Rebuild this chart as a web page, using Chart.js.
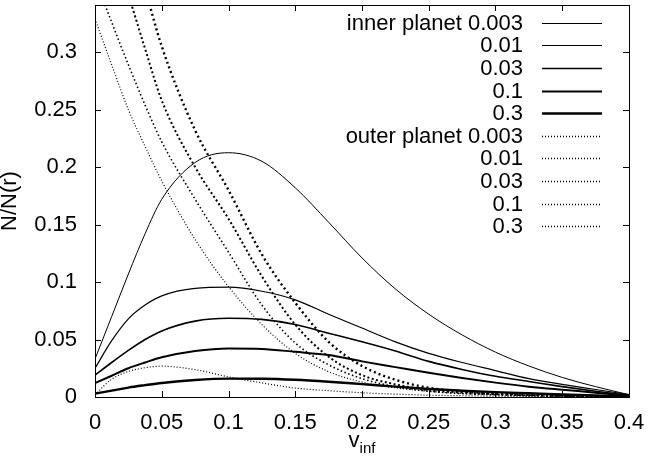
<!doctype html>
<html lang="en">
<meta charset="utf-8">

<head>
    <script src="https://cdn.jsdelivr.net/npm/chart.js"></script>
    <style>
        body { margin: 0; background: #fff; }
    </style>
</head>

<body>
    <canvas id="velChart" width="648" height="460"></canvas>

    <script>
        // velocity grid (v_inf) shared by every curve
        const vInf = [0, 0.0125, 0.025, 0.0375, 0.05, 0.075, 0.1, 0.125, 0.15, 0.175, 0.2, 0.225, 0.25, 0.275, 0.3, 0.325, 0.35, 0.375, 0.4];

        // inner planet, mass ratio 0.003 ... 0.3
        const inner0003 = [0.033, 0.070, 0.107, 0.142, 0.172, 0.204, 0.2125, 0.205, 0.182, 0.152, 0.121, 0.094, 0.072, 0.054, 0.039, 0.027, 0.017, 0.009, 0.002];
        const inner001 = [0.025, 0.049, 0.068, 0.080, 0.088, 0.0945, 0.0955, 0.092, 0.0845, 0.072, 0.060, 0.048, 0.038, 0.030, 0.023, 0.016, 0.011, 0.0065, 0.002];
        const inner003 = [0.019, 0.030, 0.0405, 0.050, 0.0575, 0.066, 0.0685, 0.0675, 0.063, 0.0555, 0.048, 0.040, 0.031, 0.024, 0.018, 0.0135, 0.009, 0.005, 0.0015];
        const inner01 = [0.012, 0.0185, 0.025, 0.030, 0.0345, 0.040, 0.0422, 0.0418, 0.0393, 0.0365, 0.031, 0.026, 0.021, 0.0165, 0.0125, 0.009, 0.0063, 0.0038, 0.001];
        const inner03 = [0.003, 0.0055, 0.0082, 0.0103, 0.0122, 0.0148, 0.0160, 0.0159, 0.0150, 0.0133, 0.0112, 0.0090, 0.0070, 0.0055, 0.0042, 0.0032, 0.0022, 0.0013, 0.0005];

        // outer planet, same mass ratios
        const outer0003 = [0.002, 0.0155, 0.0222, 0.0255, 0.0268, 0.0238, 0.0175, 0.0123, 0.0078, 0.0055, 0.0037, 0.0025, 0.0016, 0.0011, 0.0007, 0.0005, 0.0003, 0.0002, 0.0001];
        const outer001 = [0.329, 0.289, 0.250, 0.218, 0.188, 0.137, 0.096, 0.063, 0.038, 0.022, 0.013, 0.008, 0.005, 0.003, 0.002, 0.0012, 0.0008, 0.0004, 0.0002];
        const outer003 = [0.364, 0.326, 0.289, 0.254, 0.222, 0.172, 0.126, 0.080, 0.047, 0.028, 0.016, 0.009, 0.005, 0.003, 0.002, 0.0013, 0.0008, 0.0004, 0.0002];
        const outer01 = [0.44, 0.395, 0.350, 0.303, 0.258, 0.200, 0.155, 0.105, 0.063, 0.035, 0.019, 0.011, 0.006, 0.004, 0.0025, 0.0015, 0.001, 0.0005, 0.0002];
        const outer03 = [0.50, 0.452, 0.404, 0.355, 0.305, 0.232, 0.180, 0.124, 0.082, 0.048, 0.027, 0.015, 0.008, 0.005, 0.003, 0.002, 0.001, 0.0005, 0.0002];

        const keyLabels = ['inner planet 0.003', '0.01', '0.03', '0.1', '0.3',
            'outer planet 0.003', '0.01', '0.03', '0.1', '0.3'];

        const FONT = 'Liberation Sans, Arial, sans-serif';
        const FS = 22;

        function series(vals, width, dash) {
            return {
                data: vInf.map((v, i) => ({ x: v, y: vals[i] })),
                borderColor: '#000',
                borderWidth: width,
                borderDash: dash,
                borderCapStyle: 'butt',
                pointRadius: 0,
                cubicInterpolationMode: 'monotone',
                fill: false
            };
        }

        const datasets = [
            series(inner0003, 1, []),
            series(inner001, 1.2, []),
            series(inner003, 1.6, []),
            series(inner01, 2, []),
            series(inner03, 2.4, []),
            series(outer0003, 1.2, [1, 2]),
            series(outer001, 1.2, [1, 2]),
            series(outer003, 1.6, [1.5, 2.5]),
            series(outer01, 2, [2, 2.5]),
            series(outer03, 2.4, [2, 3])
        ];
        datasets.forEach((d, i) => d.label = keyLabels[i]);

        // gnuplot style frame: border on four sides, ticks pointing inwards, key top right
        const framePlugin = {
            id: 'frame',
            afterDatasetsDraw(chart) {
                const ctx = chart.ctx;
                const a = chart.chartArea;
                const xs = chart.scales.x, ys = chart.scales.y;
                const tl = 6;
                ctx.save();
                ctx.strokeStyle = '#000';
                ctx.lineWidth = 1;
                ctx.setLineDash([]);
                ctx.strokeRect(Math.round(a.left) + 0.5, Math.round(a.top) + 0.5,
                    Math.round(a.right - a.left), Math.round(a.bottom - a.top));
                ctx.beginPath();
                xs.ticks.forEach(t => {
                    const px = Math.round(xs.getPixelForValue(t.value)) + 0.5;
                    ctx.moveTo(px, a.bottom); ctx.lineTo(px, a.bottom - tl);
                    ctx.moveTo(px, a.top); ctx.lineTo(px, a.top + tl);
                });
                ys.ticks.forEach(t => {
                    const py = Math.round(ys.getPixelForValue(t.value)) + 0.5;
                    ctx.moveTo(a.left, py); ctx.lineTo(a.left + tl, py);
                    ctx.moveTo(a.right, py); ctx.lineTo(a.right - tl, py);
                });
                ctx.stroke();

                // key: solid samples keep their width, dotted samples are all drawn fine
                ctx.font = FS + 'px ' + FONT;
                ctx.fillStyle = '#000';
                ctx.textAlign = 'right';
                ctx.textBaseline = 'middle';
                const textRight = a.right - 106;
                const lineL = a.right - 87, lineR = a.right - 27;
                chart.data.datasets.forEach((ds, i) => {
                    const y = a.top + 17.7 + i * 22.6;
                    ctx.fillText(ds.label, textRight, y + 1);
                    const dotted = ds.borderDash.length > 0;
                    ctx.beginPath();
                    ctx.lineWidth = dotted ? 1.3 : ds.borderWidth;
                    ctx.setLineDash(dotted ? [1, 2] : []);
                    ctx.moveTo(lineL, Math.round(y) + 0.5);
                    ctx.lineTo(lineR, Math.round(y) + 0.5);
                    ctx.stroke();
                });
                ctx.setLineDash([]);

                // axis titles
                const cx = (a.left + a.right) / 2;
                ctx.textAlign = 'left';
                ctx.textBaseline = 'alphabetic';
                ctx.font = FS + 'px ' + FONT;
                const vw = ctx.measureText('v').width;
                ctx.font = '15px ' + FONT;
                const sw = ctx.measureText('inf').width;
                const x0 = cx - (vw + sw) / 2;
                ctx.font = FS + 'px ' + FONT;
                ctx.fillText('v', x0, 447);
                ctx.font = '15px ' + FONT;
                ctx.fillText('inf', x0 + vw, 453);

                ctx.font = FS + 'px ' + FONT;
                ctx.translate(16, (a.top + a.bottom) / 2);
                ctx.rotate(-Math.PI / 2);
                ctx.textAlign = 'center';
                ctx.fillText('N/N(r)', 0, 0);
                ctx.restore();
            }
        };

        new Chart(document.getElementById('velChart'), {
            type: 'line',
            data: { datasets: datasets },
            plugins: [framePlugin],
            options: {
                responsive: false,
                animation: false,
                layout: { padding: { top: 5, right: 19, left: 0, bottom: 0 } },
                plugins: { legend: { display: false }, tooltip: { enabled: false } },
                scales: {
                    x: {
                        type: 'linear',
                        min: 0,
                        max: 0.4,
                        grid: { display: false },
                        border: { display: false },
                        ticks: {
                            stepSize: 0.05,
                            color: '#000',
                            font: { family: FONT, size: FS },
                            padding: 5,
                            maxRotation: 0,
                            callback: v => String(+v.toFixed(2))
                        },
                        afterFit(s) { s.height = 63; s.paddingLeft = 0; s.paddingRight = 0; }
                    },
                    y: {
                        min: 0,
                        max: 0.341,
                        grid: { display: false },
                        border: { display: false },
                        ticks: {
                            stepSize: 0.05,
                            includeBounds: false,
                            color: '#000',
                            font: { family: FONT, size: FS },
                            padding: 10,
                            callback: v => String(+v.toFixed(2))
                        },
                        afterFit(s) { s.width = 95; s.paddingTop = 0; s.paddingBottom = 0; }
                    }
                }
            }
        });
    </script>
</body>

</html>
